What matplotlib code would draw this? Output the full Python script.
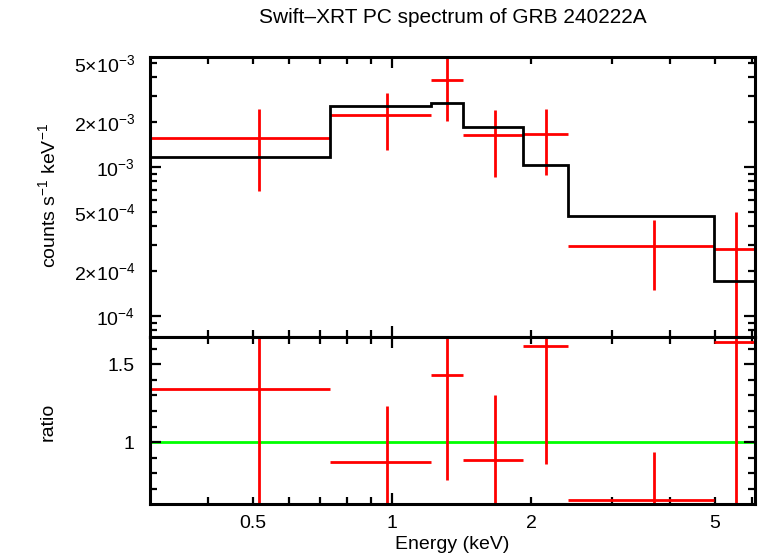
import matplotlib
matplotlib.use('Agg')
import matplotlib.pyplot as plt
import numpy as np

plt.rcParams['font.family'] = ['Liberation Sans', 'DejaVu Sans']
plt.rcParams['mathtext.fontset'] = 'custom'
plt.rcParams['mathtext.rm'] = 'Liberation Sans'
plt.rcParams['mathtext.it'] = 'Liberation Sans'

# Spectrum bins (keV)
e_lo = [0.30, 0.735, 1.214, 1.423, 1.919, 2.400, 4.985]
e_hi = [0.735, 1.214, 1.423, 1.919, 2.400, 4.985, 6.14]
rate = [1.566e-3, 2.23e-3, 3.84e-3, 1.64e-3, 1.66e-3, 2.95e-4, 2.82e-4]
rate_err = [0.88e-3, 0.93e-3, 1.80e-3, 0.78e-3, 0.78e-3, 1.46e-4, 2.17e-4]
model = [1.167e-3, 2.56e-3, 2.69e-3, 1.85e-3, 1.03e-3, 4.69e-4, 1.72e-4]

# data / model ratio
ratio = [1.342, 0.871, 1.430, 0.886, 1.615, 0.629, 1.640]
ratio_err = [0.754, 0.363, 0.670, 0.420, 0.757, 0.311, 1.26]

e_lo = np.array(e_lo)
e_hi = np.array(e_hi)
e_mid = (e_lo + e_hi) / 2
xerr = [e_mid - e_lo, e_hi - e_mid]
edges = np.append(e_lo, e_hi[-1])

fig = plt.figure(figsize=(7.58, 5.56), dpi=100)
ax1 = fig.add_axes([0.1979, 0.3939, 0.798, 0.5036])
ax2 = fig.add_axes([0.1979, 0.0935, 0.798, 0.3004], sharex=ax1)

red = '#ff0000'
lw = 2.0

ax1.stairs(model, edges, baseline=None, color='black', linewidth=lw, zorder=3)
ax1.errorbar(e_mid, rate, xerr=xerr, yerr=rate_err, fmt='none',
             ecolor=red, elinewidth=lw, capsize=0, zorder=2)

ax2.axhline(1.0, color='#00ff00', linewidth=lw, zorder=1)
ax2.errorbar(e_mid, ratio, xerr=xerr, yerr=ratio_err, fmt='none',
             ecolor=red, elinewidth=lw, capsize=0, zorder=2)

ax1.set_xscale('log')
ax1.set_yscale('log')
ax1.set_xlim(0.30, 6.1)

fs = 14

# x ticks
ax1.set_xticks([1.0], ['1'])
xminor = [0.4, 0.5, 0.6, 0.7, 0.8, 0.9, 2, 3, 4, 5, 6]
xminor_lab = ['', '0.5', '', '', '', '', '2', '', '', '5', '']
ax1.set_xticks(xminor, xminor_lab, minor=True)
plt.setp(ax1.get_xticklabels(which='both'), visible=False)

# y ticks top panel
ax1.set_yticks([1e-4, 1e-3], [r'$10^{-4}$', r'$10^{-3}$'])
yminor = [k * 10.0 ** p for p in (-5, -4, -3) for k in range(2, 10)]
ylab = []
for p in (-5, -4, -3):
    for k in range(2, 10):
        if k in (2, 5) and p > -5:
            ylab.append(r'$%d{\times}10^{%d}$' % (k, p))
        else:
            ylab.append('')
ax1.set_yticks(yminor, ylab, minor=True)
ax1.set_ylim(7.23e-5, 5.48e-3)

# y ticks ratio panel
ax2.set_yticks([1.0, 1.5], ['1', '1.5'])
ax2.set_yticks([0.7, 0.8, 0.9, 1.1, 1.2, 1.3, 1.4, 1.6], minor=True)
ax2.set_ylim(0.604, 1.675)
ax2.set_xlim(0.30, 6.1)

for ax in (ax1, ax2):
    for s in ax.spines.values():
        s.set_linewidth(2.2)
    ax.tick_params(which='both', direction='in', top=True, right=True,
                   width=1.6, labelsize=fs, colors='black')
    ax.tick_params(which='major', length=8)
    ax.tick_params(which='minor', length=5)
    ax.tick_params(axis='y', which='both', pad=11)

ax2.tick_params(axis='x', which='both', pad=8)

fig.text(0.597, 0.968, 'Swift\u2013XRT PC spectrum of GRB 240222A',
         ha='center', va='center', fontsize=15)
fig.text(0.063, 0.649, r'counts s$^{-1}$ keV$^{-1}$', rotation=90,
         ha='center', va='center', fontsize=fs)
fig.text(0.063, 0.241, 'ratio', rotation=90,
         ha='center', va='center', fontsize=fs)
fig.text(0.597, 0.020, 'Energy (keV)', ha='center', va='center', fontsize=fs)

fig.savefig('out.png', dpi=100)
